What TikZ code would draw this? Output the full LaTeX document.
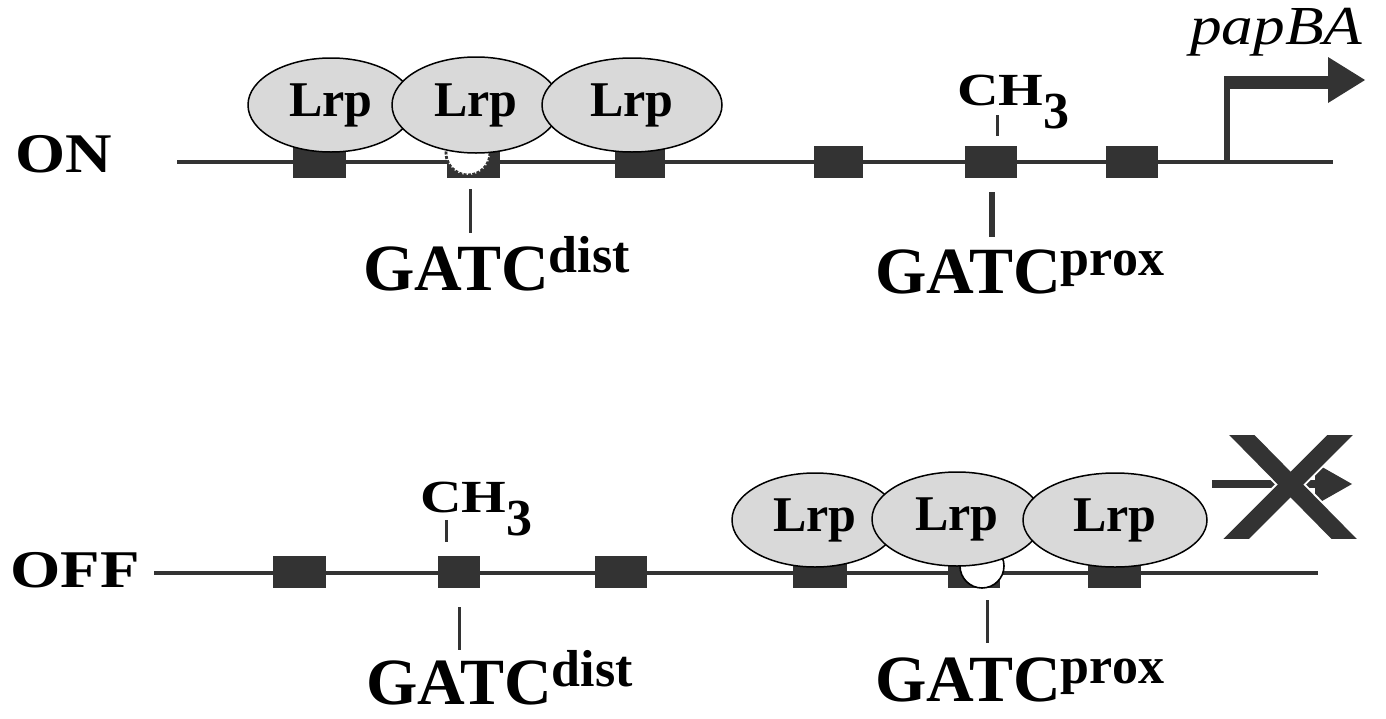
\documentclass[tikz,border=0pt]{standalone}
\usepackage{fontspec}
\setmainfont{Liberation Serif}
\usetikzlibrary{shapes.geometric}
\definecolor{dark}{HTML}{333333}
\definecolor{lrpfill}{HTML}{D9D9D9}
\newcommand{\fs}[1]{\fontsize{#1}{#1}\selectfont}
\newcommand{\gatclabel}[1]{\fs{66}\bfseries GATC\raisebox{18pt}{\fs{52}\bfseries #1}}
\newcommand{\chlabel}{\scalebox{1.25}[1]{\fs{46}\bfseries CH}\raisebox{-23pt}{\fs{52}\bfseries 3}}
\tikzset{
  dna/.style={draw=dark, line width=4pt},
  site/.style={rectangle, fill=dark, draw=none, minimum width=52pt, minimum height=32pt, inner sep=0pt},
  lrp/.style={ellipse, draw=black, line width=1.5pt, fill=lrpfill, inner sep=0pt,
              minimum height=94pt, font=\fs{50}\bfseries},
  hole/.style={circle, draw=dark, line width=2pt, fill=white, inner sep=0pt, minimum size=44pt},
  tick/.style={draw=dark, line width=3pt},
  thicktick/.style={draw=dark, line width=6pt},
  lbl/.style={anchor=base west, inner sep=0pt, text=black},
}
\begin{document}
\begin{tikzpicture}[x=1pt, y=-1pt]
\useasboundingbox (0,0) rectangle (1386,718);

% ================= ON =================
\node[lbl] (on) at (15,172) {\scalebox{1.15}[1]{\fs{56}\bfseries ON}};
\coordinate (onL) at (177,162);
\coordinate (onR) at (1333,162);
\draw[dna] (onL) -- (onR);

\node[site, minimum width=53pt] (t1) at (319.5,162) {};
\node[site, minimum width=53pt] (t2) at (473,162) {};
\node[site, minimum width=50pt] (t3) at (640,162) {};
\node[site, minimum width=49pt] (t4) at (838.5,162) {};
\node[site] (t5) at (991,162) {};
\node[site] (t6) at (1132,162) {};

\node[hole, line width=2.8pt, dash pattern=on 3pt off 1.5pt] (th) at (468,153) {};

\node[lrp, minimum width=166pt] (tl1) at (331,105) {Lrp};
\node[lrp, minimum width=168pt, minimum height=96pt] (tl2) at (476,105) {Lrp};
\node[lrp, minimum width=180pt] (tl3) at (632,105) {Lrp};

% ticks
\coordinate (tdA) at (470,189); \coordinate (tdB) at (470,233);
\draw[tick] (tdA) -- (tdB);
\coordinate (tpA) at (992,192); \coordinate (tpB) at (992,237);
\draw[thicktick] (tpA) -- (tpB);
\coordinate (tcA) at (997,115); \coordinate (tcB) at (997,136);
\draw[tick] (tcA) -- (tcB);

\node[lbl] (tch) at (957,105) {\chlabel};
\node[lbl] (tgd) at (363,290) {\gatclabel{dist}};
\node[lbl] (tgp) at (875,293) {\gatclabel{prox}};

% promoter arrow
\coordinate (pr0) at (1227,162);
\coordinate (pr1) at (1227,82);
\coordinate (pr2) at (1328,82);
\draw[draw=dark, line width=6pt] (pr0) -- ([yshift=-6pt]pr1);
\draw[draw=dark, line width=13pt] ([xshift=-3pt]pr1) -- (pr2);
\fill[dark] (1328,57) -- (1365,80) -- (1328,103) -- cycle;
\node[lbl] (pap) at (1190,44) {\scalebox{1.15}[1]{\fs{55}\itshape papBA}};

% ================= OFF =================
\node[lbl] (off) at (10,587) {\scalebox{1.22}[1]{\fs{53}\bfseries OFF}};
\coordinate (offL) at (154,573);
\coordinate (offR) at (1318,573);
\draw[dna] (offL) -- (offR);

\node[site, minimum width=53pt] (b1) at (299.5,572) {};
\node[site, minimum width=42pt] (b2) at (459,572) {};
\node[site] (b3) at (621,572) {};
\node[site, minimum width=54pt] (b4) at (820,572) {};
\node[site] (b5) at (974,572) {};
\node[site, minimum width=53pt] (b6) at (1114.5,572) {};

\node[hole, draw=black, line width=1.6pt] (bh) at (982,566) {};

\node[lrp, minimum width=166pt] (bl1) at (815,520) {Lrp};
\node[lrp, minimum width=170pt] (bl2) at (957,519) {Lrp};
\node[lrp, minimum width=184pt] (bl3) at (1115,520) {Lrp};

\coordinate (bcA) at (446,520); \coordinate (bcB) at (446,542);
\draw[tick] (bcA) -- (bcB);
\coordinate (bdA) at (459,607); \coordinate (bdB) at (459,650);
\draw[tick] (bdA) -- (bdB);
\coordinate (bpA) at (987,600); \coordinate (bpB) at (987,643);
\draw[tick] (bpA) -- (bpB);

\node[lbl] (bch) at (420,512) {\chlabel};
\node[lbl] (bgd) at (366,704) {\gatclabel{dist}};
\node[lbl] (bgp) at (875,701) {\gatclabel{prox}};

% blocked arrow
\coordinate (ba0) at (1212,484);
\coordinate (ba1) at (1317,484);
\draw[draw=dark, line width=8pt] (ba0) -- (ba1);
\fill[dark] (1315,463) -- (1352,484) -- (1315,505) -- cycle;
\begin{scope}
  \clip (1200,435) rectangle (1380,538);
  \draw[white, line width=22pt] (1232,425) -- (1353,548);
  \draw[white, line width=22pt] (1350,425) -- (1227,548);
  \draw[dark, line width=18pt] (1232,425) -- (1353,548);
  \draw[dark, line width=18pt] (1350,425) -- (1227,548);
\end{scope}
\end{tikzpicture}
\end{document}
